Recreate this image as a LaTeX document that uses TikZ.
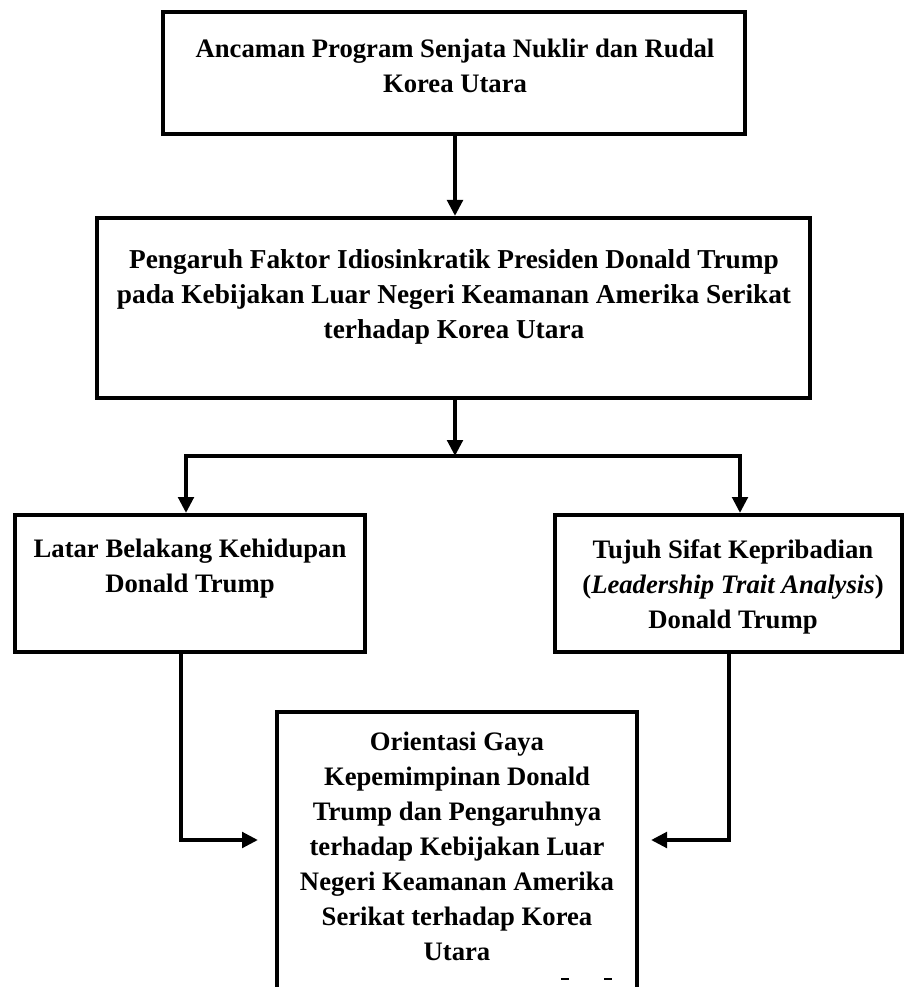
\documentclass[tikz,border=0pt]{standalone}
\usepackage{fontspec}
\setmainfont{Liberation Serif}
\usetikzlibrary{arrows.meta}
\begin{document}
\begin{tikzpicture}[x=0.75pt,y=-0.75pt,
  box/.style={draw=black,line width=3pt,rectangle,inner sep=0pt},
  txt/.style={align=center,font=\fontsize{20}{26.25}\selectfont\bfseries,inner sep=0pt,anchor=north},
  conn/.style={line width=3pt},
  arr/.style={line width=3pt,-{Triangle[length=12pt,width=11.5pt]}}]
\useasboundingbox (0,0) rectangle (905,987);
\clip (0,0) rectangle (905,987);
\node[box,minimum width=582*0.75pt,minimum height=122*0.75pt] (b1) at (454,73) {};
\node[txt] (t1) at (455,39) {Ancaman Program Senjata Nuklir dan Rudal\\Korea Utara};
\node[box,minimum width=713*0.75pt,minimum height=180*0.75pt] (b2) at (453.5,308) {};
\node[txt,font=\fontsize{20.5}{26.25}\selectfont\bfseries] (t2) at (454,249) {Pengaruh Faktor Idiosinkratik Presiden Donald Trump\\pada Kebijakan Luar Negeri Keamanan Amerika Serikat\\terhadap Korea Utara};
\node[box,minimum width=350*0.75pt,minimum height=137*0.75pt] (b3) at (190,583.5) {};
\node[txt] (t3) at (190,539) {Latar Belakang Kehidupan\\Donald Trump};
\node[box,minimum width=347*0.75pt,minimum height=137*0.75pt] (b4) at (728.5,583.5) {};
\node[txt] (t4) at (733,539) {Tujuh Sifat Kepribadian\\(\textit{Leadership Trait Analysis})\\Donald Trump};
\node[box,minimum width=360*0.75pt,minimum height=300*0.75pt] (b5) at (457,862) {};
\node[txt] (t5) at (457,732) {Orientasi Gaya\\Kepemimpinan Donald\\Trump dan Pengaruhnya\\terhadap Kebijakan Luar\\Negeri Keamanan Amerika\\Serikat terhadap Korea\\Utara};
\coordinate (j) at (455,456);
\coordinate (jl) at (186,456);
\coordinate (jr) at (740,456);
\coordinate (ll) at (181,840);
\coordinate (lr) at (729,840);
\coordinate (el) at (258,840);
\coordinate (er) at (651,840);
\draw[arr] (b1.south -| j) -- (b2.north -| j);
\draw[arr] (b2.south -| j) -- (j);
\draw[conn] ([xshift=-1.5pt]jl) -- ([xshift=1.5pt]jr);
\draw[arr] (jl) -- (jl |- b3.north);
\draw[arr] (jr) -- (jr |- b4.north);
\draw[arr] (b3.south -| ll) -- (ll) -- (el);
\draw[arr] (b4.south -| lr) -- (lr) -- (er);
\draw[line width=0.8pt] (561,979) -- (569,979);
\draw[line width=0.8pt] (604,979) -- (612,979);
\end{tikzpicture}
\end{document}
